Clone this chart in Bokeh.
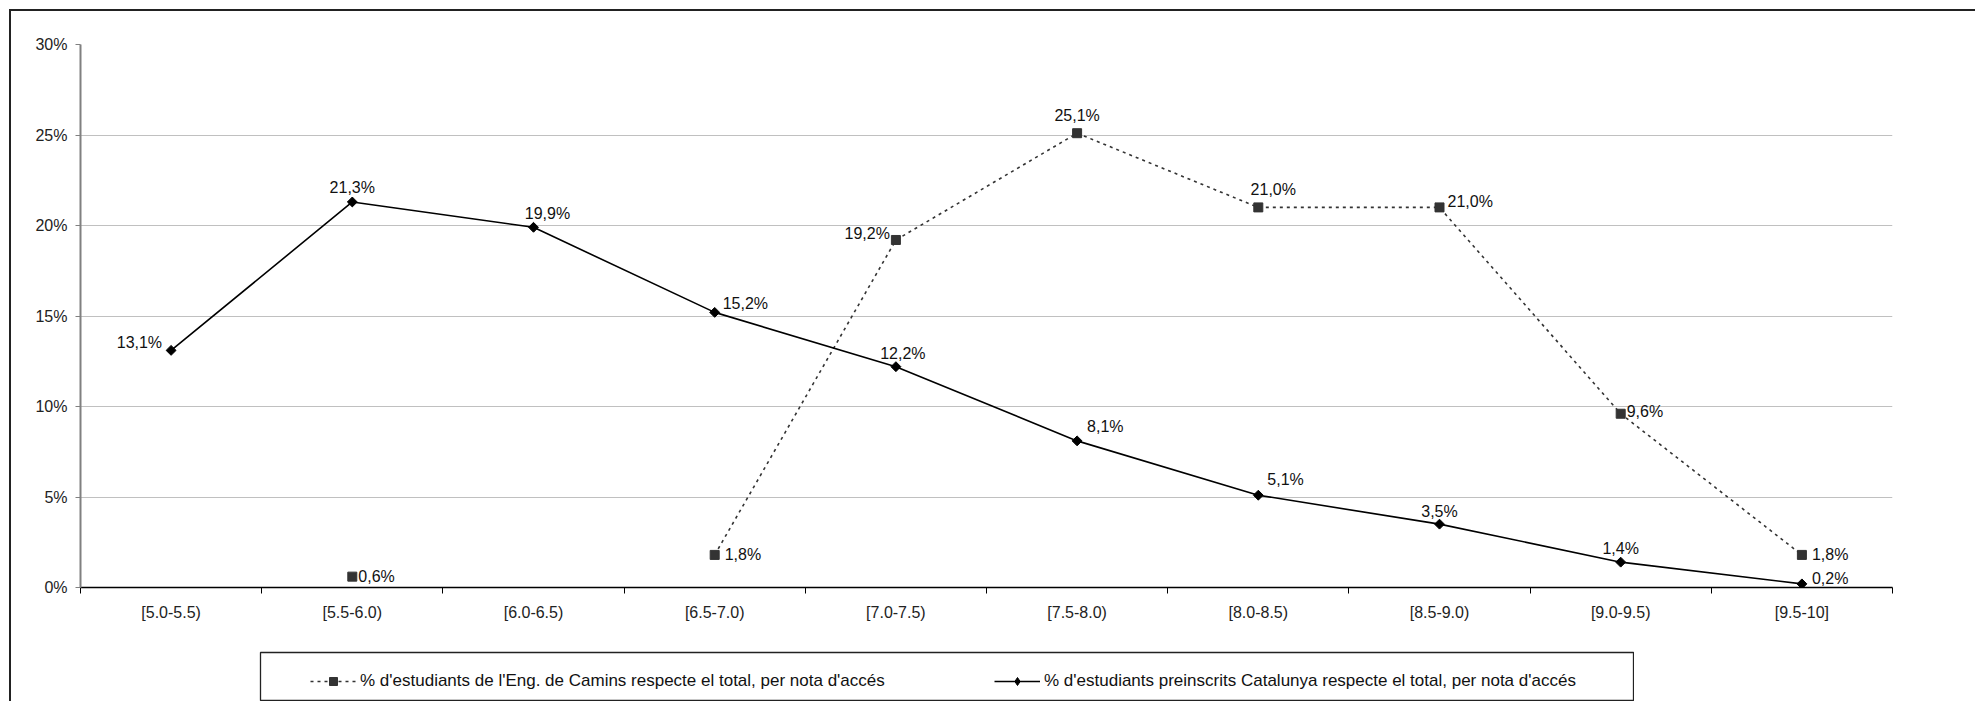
import numpy as np
from bokeh.plotting import figure
from bokeh.layouts import column, row
from bokeh.models import (ColumnDataSource, Range1d, FixedTicker, PrintfTickFormatter,
                          Legend, LegendItem, Spacer)
from bokeh.core.properties import value
from bokeh.embed import file_html
from bokeh.resources import INLINE

# ---------------- data ----------------
categories = ["[5.0-5.5)", "[5.5-6.0)", "[6.0-6.5)", "[6.5-7.0)", "[7.0-7.5)",
              "[7.5-8.0)", "[8.0-8.5)", "[8.5-9.0)", "[9.0-9.5)", "[9.5-10]"]
camins = [np.nan, 0.6, np.nan, 1.8, 19.2, 25.1, 21.0, 21.0, 9.6, 1.8]
catalunya = [13.1, 21.3, 19.9, 15.2, 12.2, 8.1, 5.1, 3.5, 1.4, 0.2]
y_ticks = [0, 5, 10, 15, 20, 25, 30]
label_camins = "% d'estudiants de l'Eng. de Camins respecte el total, per nota d'accés"
label_catalunya = "% d'estudiants preinscrits Catalunya respecte el total, per nota d'accés"

# label placement (align, dx, dy) per point
place_catalunya = [("right", -9, -8), ("center", 0, -14), ("center", 14, -14),
                   ("left", 8, -9), ("center", 7, -13), ("left", 10, -14),
                   ("left", 9, -16), ("center", 0, -13), ("center", 0, -14),
                   ("left", 10, -5)]
place_camins = [None, ("left", 6, 0), None, ("left", 10, 0), ("right", -6, -6),
                ("center", 0, -18), ("center", 15, -18), ("left", 8, -6),
                ("left", 6, -2), ("left", 10, 0)]

FONT = "Liberation Sans"

xs = [i + 0.5 for i in range(len(categories))]

src_cam = ColumnDataSource(dict(x=xs, y=camins))
src_cat = ColumnDataSource(dict(x=xs, y=catalunya))

CAM_LINE = dict(line_color="#333333", line_width=1.6, line_dash="3 4")
CAM_MARK = dict(marker="square", size=9, fill_color="#333333", line_color="#333333")
CAT_LINE = dict(line_color="black", line_width=1.6)
CAT_MARK = dict(marker="square", angle=np.pi / 4, size=7, fill_color="black",
                line_color="black")

# ---------------- main chart ----------------
p = figure(width=1964, height=640, output_backend="svg", toolbar_location=None,
           x_range=Range1d(0, len(categories)), y_range=Range1d(0, 30),
           min_border_left=69, min_border_right=83, min_border_top=33,
           min_border_bottom=64)
p.outline_line_color = None
p.background_fill_color = "white"
p.border_fill_color = "white"

xa = p.xaxis[0]
xa.ticker = FixedTicker(ticks=xs, minor_ticks=list(range(len(categories) + 1)))
xa.major_label_overrides = {x: c for x, c in zip(xs, categories)}
xa.major_tick_out = 0
xa.major_tick_in = 0
xa.minor_tick_out = 6
xa.minor_tick_in = 0
xa.minor_tick_line_color = "black"
xa.axis_line_color = "black"
xa.axis_line_width = 1.5
xa.major_label_standoff = 10
xa.major_label_text_font = FONT
xa.major_label_text_font_size = "16px"
xa.major_label_text_color = "#222222"

ya = p.yaxis[0]
ya.ticker = FixedTicker(ticks=y_ticks, minor_ticks=[])
ya.formatter = PrintfTickFormatter(format="%d%%")
ya.axis_line_color = "#808080"
ya.axis_line_width = 2
ya.major_tick_out = 5
ya.major_tick_in = 0
ya.major_tick_line_color = "#808080"
ya.major_label_standoff = 8
ya.major_label_text_font = FONT
ya.major_label_text_font_size = "16px"
ya.major_label_text_color = "#222222"

p.xgrid.grid_line_color = None
p.ygrid.ticker = FixedTicker(ticks=y_ticks)
p.ygrid.grid_line_color = "#c0c0c0"
p.ygrid.grid_line_width = 1

p.line("x", "y", source=src_cam, **CAM_LINE)
p.scatter("x", "y", source=src_cam, **CAM_MARK)
p.line("x", "y", source=src_cat, **CAT_LINE)
p.scatter("x", "y", source=src_cat, **CAT_MARK)


def fmt(v):
    return f"{v:.1f}".replace(".", ",") + "%"


def label_source(vals, places):
    d = dict(x=[], y=[], t=[], a=[], dx=[], dy=[])
    for x, v, pl in zip(xs, vals, places):
        if pl is None or np.isnan(v):
            continue
        d["x"].append(x)
        d["y"].append(v)
        d["t"].append(fmt(v))
        d["a"].append(pl[0])
        d["dx"].append(pl[1])
        d["dy"].append(pl[2])
    return ColumnDataSource(d)


for vals, places in ((catalunya, place_catalunya), (camins, place_camins)):
    p.text("x", "y", text="t", source=label_source(vals, places),
           text_align="a", x_offset="dx", y_offset="dy", text_baseline="middle",
           text_font=value(FONT), text_font_size="16px", text_color="#111111")

# ---------------- legend box ----------------
lg = figure(width=1375, height=50, output_backend="svg", toolbar_location=None,
            x_range=Range1d(-100, -99), y_range=Range1d(-100, -99),
            x_axis_type=None, y_axis_type=None, min_border=1)
lg.grid.visible = False
lg.outline_line_color = "#222222"
lg.outline_line_width = 1.3
lg.background_fill_color = "white"
lg.border_fill_color = "white"

r1 = lg.line("x", "y", source=src_cam, **CAM_LINE)
r2 = lg.scatter("x", "y", source=src_cam, **CAM_MARK)
r3 = lg.line("x", "y", source=src_cat, **CAT_LINE)
r4 = lg.scatter("x", "y", source=src_cat, marker="diamond", size=11,
                fill_color="black", line_color="black")

legend = Legend(items=[LegendItem(label=label_camins, renderers=[r1, r2]),
                       LegendItem(label=label_catalunya, renderers=[r3, r4])],
                orientation="horizontal", location=(50, 9),
                border_line_color=None, background_fill_alpha=0,
                padding=5, margin=0, spacing=94, glyph_width=46, glyph_height=20,
                label_standoff=4, label_height=20, label_width=540,
                label_text_font=FONT, label_text_font_size="17px",
                label_text_color="#111111")
lg.add_layout(legend)

layout = column(p, row(Spacer(width=248, height=50), lg))
layout.styles = {"margin-left": "9px", "margin-top": "9px",
                 "border-left": "2px solid #222222", "border-top": "2px solid #222222"}

open("out.html", "w").write(file_html(layout, INLINE))
